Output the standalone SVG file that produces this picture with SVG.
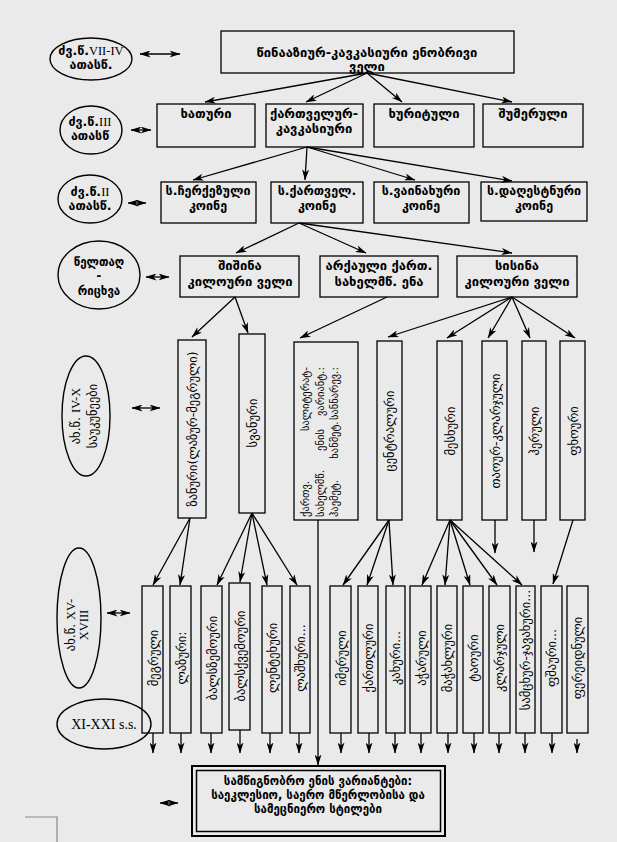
<svg xmlns="http://www.w3.org/2000/svg" width="617" height="842" viewBox="0 0 617 842">
<defs>
<marker id="ah" viewBox="0 0 11 7" refX="10.5" refY="3.5" markerWidth="11" markerHeight="7" markerUnits="userSpaceOnUse" orient="auto-start-reverse">
<path d="M0,0 L11,3.5 L0,7 L3,3.5z" fill="#000"/>
</marker>
<style>
.box{fill:none;stroke:#000;stroke-width:1.3}
.el{fill:none;stroke:#000;stroke-width:1.4}
.t{font-family:"DejaVu Sans",sans-serif;font-size:13px;font-weight:bold;text-anchor:middle;fill:#000}
.s{font-size:12.5px}
.b{font-size:11.5px}
.v{font-family:"DejaVu Sans",sans-serif;font-size:12.5px;text-anchor:middle;fill:#000}
.lt{font-size:10.5px}
.r{font-family:"Liberation Serif",serif;font-weight:normal}
.c{stroke:#000;stroke-width:1.3;fill:none;marker-end:url(#ah)}
.d{stroke:#000;stroke-width:1.3;fill:none;marker-end:url(#ah);marker-start:url(#ah)}
</style>
</defs>
<rect width="617" height="842" fill="#eaeaea"/>

<g id="connectors">
<line class="d" x1="140" y1="54" x2="180" y2="54"/>
<line class="d" x1="131" y1="130" x2="151" y2="130"/>
<line class="d" x1="128" y1="203" x2="146" y2="203"/>
<line class="d" x1="146" y1="277" x2="169" y2="277"/>
<line class="d" x1="132" y1="408" x2="160" y2="408"/>
<line class="d" x1="107" y1="613" x2="130" y2="613"/>
<line class="d" x1="160" y1="803" x2="178" y2="803"/>

<line class="c" x1="367" y1="73" x2="205" y2="102"/>
<line class="c" x1="367" y1="73" x2="306" y2="102"/>
<line class="c" x1="367" y1="73" x2="402" y2="102"/>
<line class="c" x1="367" y1="73" x2="512" y2="102"/>

<line class="c" x1="307" y1="147" x2="193" y2="180"/>
<line class="c" x1="307" y1="147" x2="305" y2="180"/>
<line class="c" x1="307" y1="147" x2="415" y2="180"/>
<line class="c" x1="307" y1="147" x2="512" y2="181"/>

<line class="c" x1="299" y1="223" x2="236" y2="253"/>
<line class="c" x1="299" y1="223" x2="366" y2="253"/>
<line class="c" x1="299" y1="223" x2="512" y2="253"/>

<line class="c" x1="235" y1="297" x2="192" y2="337"/>
<line class="c" x1="235" y1="297" x2="248" y2="333"/>
<line class="c" x1="387" y1="297" x2="300" y2="338"/>
<line class="c" x1="512" y1="297" x2="388" y2="337"/>
<line class="c" x1="512" y1="297" x2="447" y2="338"/>
<line class="c" x1="512" y1="297" x2="488" y2="338"/>
<line class="c" x1="512" y1="297" x2="530" y2="338"/>
<line class="c" x1="512" y1="297" x2="575" y2="338"/>

<line class="c" x1="190" y1="518" x2="153" y2="585"/>
<line class="c" x1="190" y1="518" x2="180" y2="585"/>
<line class="c" x1="252" y1="513" x2="217" y2="585"/>
<line class="c" x1="252" y1="513" x2="240" y2="582"/>
<line class="c" x1="252" y1="513" x2="267" y2="585"/>
<line class="c" x1="252" y1="513" x2="297" y2="585"/>
<line class="c" x1="318" y1="520" x2="318" y2="765"/>
<line class="c" x1="389" y1="520" x2="343" y2="585"/>
<line class="c" x1="389" y1="520" x2="367" y2="585"/>
<line class="c" x1="389" y1="520" x2="393" y2="585"/>
<line class="c" x1="450" y1="520" x2="422" y2="585"/>
<line class="c" x1="450" y1="520" x2="445" y2="585"/>
<line class="c" x1="450" y1="520" x2="470" y2="585"/>
<line class="c" x1="450" y1="520" x2="497" y2="585"/>
<line class="c" x1="450" y1="520" x2="522" y2="585"/>
<line class="c" x1="495" y1="520" x2="495" y2="553"/>
<line class="c" x1="534" y1="520" x2="534" y2="552"/>
<line class="c" x1="573" y1="520" x2="553" y2="584"/>

<line class="c" x1="153" y1="733" x2="153" y2="753"/>
<line class="c" x1="181" y1="733" x2="181" y2="753"/>
<line class="c" x1="211" y1="733" x2="211" y2="753"/>
<line class="c" x1="240" y1="730" x2="240" y2="753"/>
<line class="c" x1="270" y1="733" x2="270" y2="753"/>
<line class="c" x1="299" y1="733" x2="299" y2="753"/>
<line class="c" x1="341" y1="733" x2="341" y2="753"/>
<line class="c" x1="369" y1="733" x2="369" y2="753"/>
<line class="c" x1="395" y1="733" x2="395" y2="753"/>
<line class="c" x1="421" y1="733" x2="421" y2="753"/>
<line class="c" x1="448" y1="733" x2="448" y2="753"/>
<line class="c" x1="474" y1="733" x2="474" y2="753"/>
<line class="c" x1="499" y1="733" x2="499" y2="753"/>
<line class="c" x1="525" y1="733" x2="525" y2="753"/>
<line class="c" x1="552" y1="733" x2="552" y2="753"/>
<line class="c" x1="577" y1="739" x2="577" y2="753"/>
</g>

<g id="era1">
<ellipse class="el" cx="91" cy="59" rx="41" ry="21"/>
<text class="t s" x="91" y="55">ძვ.წ.<tspan class="r">VII-IV</tspan></text>
<text class="t s" x="91" y="69">ათასწ.</text>
</g>
<g id="n-top">
<rect class="box" x="221" y="31" width="293" height="42"/>
<text class="t" x="367" y="57">წინააზიურ-კავკასიური ენობრივი</text>
<text class="t" x="367" y="71">ველი</text>
</g>

<g id="era2">
<ellipse class="el" cx="91" cy="130" rx="31" ry="24"/>
<text class="t s" x="90" y="126">ძვ.წ.<tspan class="r">III</tspan></text>
<text class="t s" x="90" y="140">ათასწ</text>
</g>
<g id="n-khaturi"><rect class="box" x="157" y="104" width="98" height="43"/><text class="t" x="206" y="118">ხათური</text></g>
<g id="n-kartvelur"><rect class="box" x="266" y="104" width="97" height="43"/><text class="t" x="314" y="118">ქართველურ-</text><text class="t" x="314" y="133">კავკასიური</text></g>
<g id="n-khuriti"><rect class="box" x="374" y="104" width="100" height="43"/><text class="t" x="424" y="118">ხურიტული</text></g>
<g id="n-shumeruli"><rect class="box" x="483" y="104" width="100" height="43"/><text class="t" x="533" y="118">შუმერული</text></g>

<g id="era3">
<ellipse class="el" cx="90" cy="199" rx="32" ry="24"/>
<text class="t s" x="90" y="196">ძვ.წ.<tspan class="r">II</tspan></text>
<text class="t s" x="90" y="210">ათასწ.</text>
</g>
<g id="n-cherk"><rect class="box" x="161" y="182" width="95" height="41"/><text class="t s" x="208" y="195">ს.ჩერქეზული</text><text class="t s" x="208" y="210">კოინე</text></g>
<g id="n-kartkoine"><rect class="box" x="271" y="182" width="92" height="41"/><text class="t s" x="317" y="195">ს.ქართველ.</text><text class="t s" x="317" y="210">კოინე</text></g>
<g id="n-vainakh"><rect class="box" x="374" y="182" width="95" height="41"/><text class="t s" x="421" y="195">ს.ვაინახური</text><text class="t s" x="421" y="210">კოინე</text></g>
<g id="n-dagh"><rect class="box" x="481" y="182" width="106" height="39"/><text class="t s" x="534" y="195">ს.დაღესტნური</text><text class="t s" x="534" y="210">კოინე</text></g>

<g id="era4">
<ellipse class="el" cx="99" cy="275" rx="41" ry="34"/>
<text class="t b" x="99" y="266">წელთაღ</text>
<text class="t b" x="99" y="280">-</text>
<text class="t b" x="99" y="295">რიცხვა</text>
</g>
<g id="n-shishina"><rect class="box" x="180" y="256" width="119" height="41"/><text class="t" x="240" y="270">შიშინა</text><text class="t" x="240" y="286">კილოური ველი</text></g>
<g id="n-arkauli"><rect class="box" x="320" y="256" width="118" height="41"/><text class="t" x="379" y="270">არქაული ქართ.</text><text class="t" x="379" y="286">სახელმწ. ენა</text></g>
<g id="n-sisina"><rect class="box" x="457" y="256" width="120" height="41"/><text class="t" x="517" y="270">სისინა</text><text class="t" x="517" y="286">კილოური ველი</text></g>

<g id="era5">
<ellipse class="el" cx="86" cy="416" rx="24" ry="60"/>
<g transform="translate(86,416) rotate(-90)">
<text class="v" x="0" y="-6">ახ.წ. <tspan class="r">IV-X</tspan></text>
<text class="v" x="0" y="11">საუკუნეები</text>
</g>
</g>
<g id="n-zanuri"><rect class="box" x="178" y="340" width="28" height="178"/><text class="v" transform="translate(192,429) rotate(-90)" y="4.5">ზანური(ლაზურ-მეგრული)</text></g>
<g id="n-svanuri"><rect class="box" x="239" y="334" width="26" height="179"/><text class="v" transform="translate(252,423) rotate(-90)" y="4.5">სვანური</text></g>
<g id="n-literary"><rect class="box" x="294" y="342" width="64" height="178"/>
<g transform="translate(321,442) rotate(-90)">
<text class="v lt" style="text-anchor:start" x="-75" y="-12">ქართვ.</text><text class="v lt" style="text-anchor:end" x="75" y="-12">სალიტერატ-</text>
<text class="v lt" style="text-anchor:start" x="-75" y="2.5">სახელმწ.</text><text class="v lt" x="2" y="2.5">ენის</text><text class="v lt" style="text-anchor:end" x="75" y="2.5">ვარიანტ.:</text>
<text class="v lt" style="text-anchor:start" x="-75" y="17">ჰაემეტ.</text><text class="v lt" x="2" y="17">ხანმეტ.</text><text class="v lt" style="text-anchor:end" x="75" y="17">სანნარევ.:</text>
</g>
</g>
<g id="n-central"><rect class="box" x="377" y="341" width="25" height="179"/><text class="v" transform="translate(389,431) rotate(-90)" y="4.5">ცენტრალური</text></g>
<g id="n-meskhuri"><rect class="box" x="437" y="341" width="25" height="179"/><text class="v" transform="translate(450,431) rotate(-90)" y="4.5">მესხური</text></g>
<g id="n-tao"><rect class="box" x="482" y="341" width="25" height="179"/><text class="v" transform="translate(495,431) rotate(-90)" y="4.5">თაოურ-კლარჯული</text></g>
<g id="n-heruli"><rect class="box" x="522" y="341" width="24" height="179"/><text class="v" transform="translate(534,431) rotate(-90)" y="4.5">ჰერული</text></g>
<g id="n-pkhouri"><rect class="box" x="560" y="341" width="25" height="179"/><text class="v" transform="translate(573,431) rotate(-90)" y="4.5">ფხოური</text></g>

<g id="era6">
<ellipse class="el" cx="79" cy="618" rx="22" ry="70"/>
<g transform="translate(79,625) rotate(-90)">
<text class="v" x="0" y="-4">ახ.წ. <tspan class="r">XV-</tspan></text>
<text class="v r" x="0" y="9">XVIII</text>
</g>
</g>
<g id="era7">
<ellipse class="el" cx="104" cy="724" rx="47" ry="25"/>
<text x="104" y="729" style="font-family:'Liberation Serif',serif;font-size:14px;text-anchor:middle">XI-XXI s.s.</text>
</g>

<g id="n-megruli"><rect class="box" x="142" y="586" width="21" height="147"/><text class="v" transform="translate(153,658) rotate(-90)" y="4.5">მეგრული</text></g>
<g id="n-lazuri"><rect class="box" x="170" y="586" width="21" height="147"/><text class="v" transform="translate(181,658) rotate(-90)" y="4.5">ლაზური:</text></g>
<g id="n-balzemo"><rect class="box" x="201" y="586" width="21" height="147"/><text class="v" transform="translate(212,658) rotate(-90)" y="4.5">ბალსზემოური</text></g>
<g id="n-balkvemo"><rect class="box" x="229" y="583" width="21" height="147"/><text class="v" transform="translate(240,656) rotate(-90)" y="4.5">ბალსქვემოური</text></g>
<g id="n-lentekh"><rect class="box" x="262" y="586" width="20" height="147"/><text class="v" transform="translate(272,658) rotate(-90)" y="4.5">ლენტეხური</text></g>
<g id="n-lashkh"><rect class="box" x="290" y="586" width="20" height="147"/><text class="v" transform="translate(300,658) rotate(-90)" y="4.5">ლაშხური...</text></g>
<g id="n-imeruli"><rect class="box" x="330" y="586" width="21" height="147"/><text class="v" transform="translate(341,658) rotate(-90)" y="4.5">იმერული</text></g>
<g id="n-kartluri"><rect class="box" x="358" y="586" width="20" height="147"/><text class="v" transform="translate(368,658) rotate(-90)" y="4.5">ქართლური</text></g>
<g id="n-kakhuri"><rect class="box" x="386" y="586" width="19" height="147"/><text class="v" transform="translate(395,658) rotate(-90)" y="4.5">კახური...</text></g>
<g id="n-acharuli"><rect class="box" x="410" y="586" width="21" height="147"/><text class="v" transform="translate(421,658) rotate(-90)" y="4.5">აჭარული</text></g>
<g id="n-machakhl"><rect class="box" x="437" y="586" width="20" height="147"/><text class="v" transform="translate(447,658) rotate(-90)" y="4.5">მაჭახლური</text></g>
<g id="n-taouri"><rect class="box" x="463" y="586" width="20" height="147"/><text class="v" transform="translate(473,658) rotate(-90)" y="4.5">ტაოური</text></g>
<g id="n-klarjuli"><rect class="box" x="489" y="586" width="21" height="147"/><text class="v" transform="translate(499,658) rotate(-90)" y="4.5">კლარჯული</text></g>
<g id="n-samtskh"><rect class="box" x="516" y="586" width="19" height="147"/><text class="v" transform="translate(525,650) rotate(-90)" y="4.5">სამცხურ-ჯავახური...</text></g>
<g id="n-pshauri"><rect class="box" x="541" y="586" width="21" height="147"/><text class="v" transform="translate(551,658) rotate(-90)" y="4.5">ფშაური...</text></g>
<g id="n-fereid"><rect class="box" x="567" y="586" width="21" height="147"/><text class="v" transform="translate(577,658) rotate(-90)" y="4.5">ფერეიდნული</text></g>

<g id="n-bottom">
<rect x="192" y="766" width="253" height="70" fill="none" stroke="#000" stroke-width="2"/>
<rect x="196.5" y="770.5" width="244" height="61" fill="none" stroke="#000" stroke-width="1.5"/>
<text class="t b" x="318" y="785">სამწიგნობრო ენის ვარიანტები:</text>
<text class="t b" x="318" y="799">საეკლესიო, საერო მწერლობისა და</text>
<text class="t b" x="318" y="813">სამეცნიერო სტილები</text>
</g>

<polyline points="25,817 57,817 57,842" fill="none" stroke="#888" stroke-width="1.2"/>
</svg>
